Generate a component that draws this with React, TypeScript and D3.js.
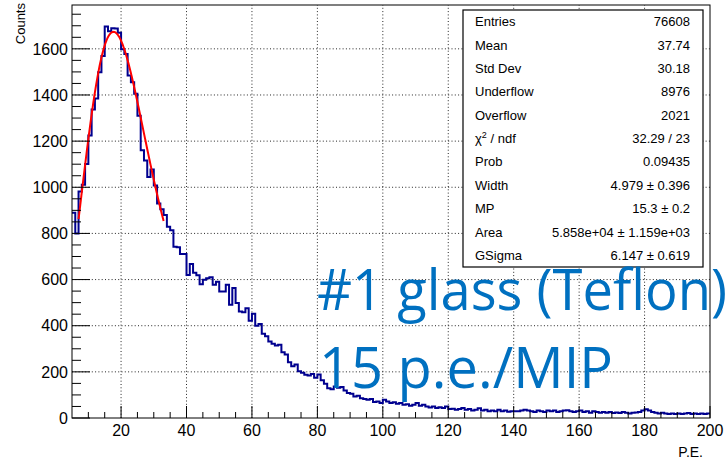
import React, { useMemo } from 'react';
import * as d3 from 'd3';

// ---------- data ----------
const binLow = 5;
const binWidth = 1;
const counts: number[] = [
  890, 800, 982, 1011, 1101, 1224, 1337, 1385, 1498, 1569, // 5-14
  1697, 1676, 1689, 1688, 1670, 1598, 1578, 1484, 1455, 1405, // 15-24
  1310, 1160, 1116, 1044, 1077, 1008, 930, 905, 880, 829, // 25-34
  814, 742, 740, 711, 711, 620, 668, 630, 619, 580, // 35-44
  599, 606, 610, 577, 591, 548, 548, 577, 491, 563, // 45-54
  498, 462, 458, 476, 422, 452, 400, 407, 365, 354, // 55-64
  332, 322, 314, 318, 285, 275, 242, 224, 232, 203, // 65-74
  196, 187, 184, 191, 174, 188, 164, 148, 129, 125, // 75-84
  137, 131, 134, 119, 108, 105, 93, 96, 86, 82, // 85-94
  79, 82, 69, 72, 65, 79, 72, 65, 68, 62, // 95-104
  65, 57, 60, 53, 57, 65, 53, 57, 50, 46, // 105-114
  50, 43, 47, 43, 50, 39, 40, 36, 39, 43, // 115-124
  36, 39, 33, 36, 42, 33, 36, 29, 33, 29, // 125-134
  36, 29, 32, 27, 29, 29, 29, 32, 36, 33, // 135-144
  29, 26, 32, 29, 26, 32, 29, 32, 26, 29, // 145-154
  32, 34, 29, 26, 29, 32, 26, 29, 23, 29, // 155-164
  26, 23, 26, 23, 26, 22, 24, 22, 26, 23, // 165-174
  20, 23, 24, 26, 32, 38, 32, 26, 23, 20, // 175-184
  23, 20, 17, 20, 17, 20, 17, 19, 22, 17, // 185-194
  19, 17, 20, 17, 19, // 195-199
];
const xDomain = [5, 200];
const yDomain = [0, 1790];
const xMajorTicks = [20, 40, 60, 80, 100, 120, 140, 160, 180, 200];
const yMajorTicks = [0, 200, 400, 600, 800, 1000, 1200, 1400, 1600];
const xTitle = 'P.E.';
const yTitle = 'Counts';

const statLabels = ['Entries', 'Mean', 'Std Dev', 'Underflow', 'Overflow', 'CHI2', 'Prob', 'Width', 'MP', 'Area', 'GSigma'];
const statValues = ['76608', '37.74', '30.18', '8976', '2021', '32.29 / 23', '0.09435', '4.979 ± 0.396', '15.3 ± 0.2', '5.858e+04 ± 1.159e+03', '6.147 ± 0.619'];

// Landau ⊗ Gauss fit parameters (from the stats box)
const fitWidth = 4.979;
const fitMP = 15.3;
const fitArea = 5.858e4;
const fitGSigma = 6.147;
const fitRange = [7, 33];

const annotationLines = ['#1 glass (Teflon)', '15 p.e./MIP'];

// ---------- Landau density ----------
function landauRaw(l: number): number {
  if (l < -2.5) {
    const s0 = Math.exp(-1 - l);
    return Math.sqrt(s0 / (2 * Math.PI)) * Math.exp(-s0);
  }
  const f = (t: number) => (t <= 0 ? 0 : Math.exp(-t * Math.log(t) - l * t) * Math.sin(Math.PI * t));
  let tmax = 2;
  while (!(-tmax * Math.log(tmax) - l * tmax < -40)) tmax += 1;
  const n = Math.ceil(tmax / 0.002 / 2) * 2;
  const hh = tmax / n;
  let s = f(0) + f(tmax);
  for (let i = 1; i < n; i++) s += (i % 2 ? 4 : 2) * f(i * hh);
  return (s * hh) / 3 / Math.PI;
}

function buildLandauTable() {
  const lo = -6, hi = 20, st = 0.02;
  const vals: number[] = [];
  for (let l = lo; l <= hi + 1e-9; l += st) vals.push(landauRaw(l));
  return (l: number) => {
    if (l <= lo) return 0;
    if (l >= hi) return 1 / (l * l);
    const p = (l - lo) / st;
    const i = Math.floor(p);
    const fr = p - i;
    return vals[i] * (1 - fr) + vals[Math.min(i + 1, vals.length - 1)] * fr;
  };
}

function langaus(x: number, landau: (l: number) => number) {
  const mpshift = -0.22278298;
  const mpc = fitMP - mpshift * fitWidth;
  const np = 100;
  const sc = 5;
  const xlow = x - sc * fitGSigma;
  const xupp = x + sc * fitGSigma;
  const step = (xupp - xlow) / np;
  let sum = 0;
  for (let i = 0; i < np; i++) {
    const xx = xlow + (i + 0.5) * step;
    const fland = landau((xx - mpc) / fitWidth) / fitWidth;
    sum += fland * Math.exp(-0.5 * ((x - xx) / fitGSigma) ** 2);
  }
  return (fitArea * step * sum) / (Math.sqrt(2 * Math.PI) * fitGSigma);
}

// ---------- component ----------
const W = 725;
const H = 464;
const frame = { left: 72, right: 710, top: 5, bottom: 418 };
const font = '"Liberation Sans", Arial, Helvetica, sans-serif';

export default function App() {
  const x = d3.scaleLinear().domain(xDomain).range([frame.left, frame.right]);
  const y = d3.scaleLinear().domain(yDomain).range([frame.bottom, frame.top]);

  const histPath = useMemo(() => {
    const pts: [number, number][] = counts.map((c, i) => [binLow + i * binWidth, c]);
    pts.push([binLow + counts.length * binWidth, counts[counts.length - 1]]);
    return d3
      .line<[number, number]>()
      .x((d) => x(d[0]))
      .y((d) => y(d[1]))
      .curve(d3.curveStepAfter)(pts) as string;
  }, []);

  const fitPath = useMemo(() => {
    const landau = buildLandauTable();
    const n = 150;
    const pts: [number, number][] = d3.range(n + 1).map((i) => {
      const xv = fitRange[0] + ((fitRange[1] - fitRange[0]) * i) / n;
      return [xv, langaus(xv, landau)];
    });
    return d3
      .line<[number, number]>()
      .x((d) => x(d[0]))
      .y((d) => y(d[1]))(pts) as string;
  }, []);

  const xMinor = d3.range(10, 200, 5).filter((v) => !xMajorTicks.includes(v));
  const yMinor = d3.range(50, 1790, 50).filter((v) => !yMajorTicks.includes(v));

  const statBox = { left: 463, top: 10, right: 703, bottom: 267 };
  const rowH = (statBox.bottom - statBox.top) / statLabels.length;

  return (
    <svg
      width={W}
      height={H}
      viewBox={`0 0 ${W} ${H}`}
      style={{ position: 'absolute', left: 0, top: 0, background: '#fff' }}
      fontFamily={font}
    >
      <defs>
        <clipPath id="frameClip">
          <rect x={frame.left} y={frame.top} width={frame.right - frame.left} height={frame.bottom - frame.top} />
        </clipPath>
      </defs>
      <rect x={0} y={0} width={W} height={H} fill="#fff" />

      {/* grid */}
      <g stroke="#000" strokeWidth={1} strokeDasharray="1 2.3" opacity={0.85}>
        {xMajorTicks
          .filter((v) => v < xDomain[1])
          .map((v) => (
            <line key={'gx' + v} x1={x(v)} x2={x(v)} y1={frame.bottom} y2={frame.top} />
          ))}
        {yMajorTicks
          .filter((v) => v > 0)
          .map((v) => (
            <line key={'gy' + v} x1={frame.left} x2={frame.right} y1={y(v)} y2={y(v)} />
          ))}
      </g>

      {/* histogram */}
      <g clipPath="url(#frameClip)">
        <path d={histPath} fill="none" stroke="#00008f" strokeWidth={2} strokeLinejoin="miter" />
        <path d={fitPath} fill="none" stroke="#ff0000" strokeWidth={2} />
      </g>

      {/* frame */}
      <rect
        x={frame.left}
        y={frame.top}
        width={frame.right - frame.left}
        height={frame.bottom - frame.top}
        fill="none"
        stroke="#000"
        strokeWidth={1}
      />

      {/* ticks */}
      <g stroke="#000" strokeWidth={1}>
        {xMajorTicks.map((v) => (
          <line key={'xt' + v} x1={x(v)} x2={x(v)} y1={frame.bottom} y2={frame.bottom - 12} />
        ))}
        {xMinor.map((v) => (
          <line key={'xm' + v} x1={x(v)} x2={x(v)} y1={frame.bottom} y2={frame.bottom - 6} />
        ))}
        {yMajorTicks.map((v) => (
          <line key={'yt' + v} x1={frame.left} x2={frame.left + 18} y1={y(v)} y2={y(v)} />
        ))}
        {yMinor.map((v) => (
          <line key={'ym' + v} x1={frame.left} x2={frame.left + 9} y1={y(v)} y2={y(v)} />
        ))}
      </g>

      {/* tick labels */}
      <g fontSize={16} fill="#000">
        {xMajorTicks.map((v) => (
          <text key={'xl' + v} x={x(v)} y={436} textAnchor="middle">
            {v}
          </text>
        ))}
        {yMajorTicks.map((v) => (
          <text key={'yl' + v} x={68} y={y(v) + 5.7} textAnchor="end">
            {v}
          </text>
        ))}
      </g>

      {/* axis titles */}
      <text x={703} y={457} fontSize={14} textAnchor="end">
        {xTitle}
      </text>
      <text transform="translate(25,3) rotate(-90)" fontSize={13} textAnchor="end">
        {yTitle}
      </text>

      {/* stats box */}
      <rect
        x={statBox.left}
        y={statBox.top}
        width={statBox.right - statBox.left}
        height={statBox.bottom - statBox.top}
        fill="#fff"
        stroke="#000"
        strokeWidth={1.2}
      />
      <g fontSize={13} fill="#000">
        {statLabels.map((lab, i) => {
          const cy = statBox.top + rowH * (i + 0.5) + 4.6;
          return (
            <g key={'st' + i}>
              <text x={475} y={cy}>
                {lab === 'CHI2' ? (
                  <>
                    {'χ'}
                    <tspan fontSize={9} dy={-5}>
                      2
                    </tspan>
                    <tspan dy={5}>{' / ndf'}</tspan>
                  </>
                ) : (
                  lab
                )}
              </text>
              <text x={690} y={cy} textAnchor="end">
                {statValues[i]}
              </text>
            </g>
          );
        })}
      </g>

      {/* annotation */}
      <g fill="#0070c0" fontFamily='"Open Sans", "Noto Sans", sans-serif' fontSize={56}>
        <text x={317} y={310} textLength={410} lengthAdjust="spacingAndGlyphs">
          {annotationLines[0]}
        </text>
        <text x={319} y={388} textLength={294} lengthAdjust="spacingAndGlyphs">
          {annotationLines[1]}
        </text>
      </g>
    </svg>
  );
}
